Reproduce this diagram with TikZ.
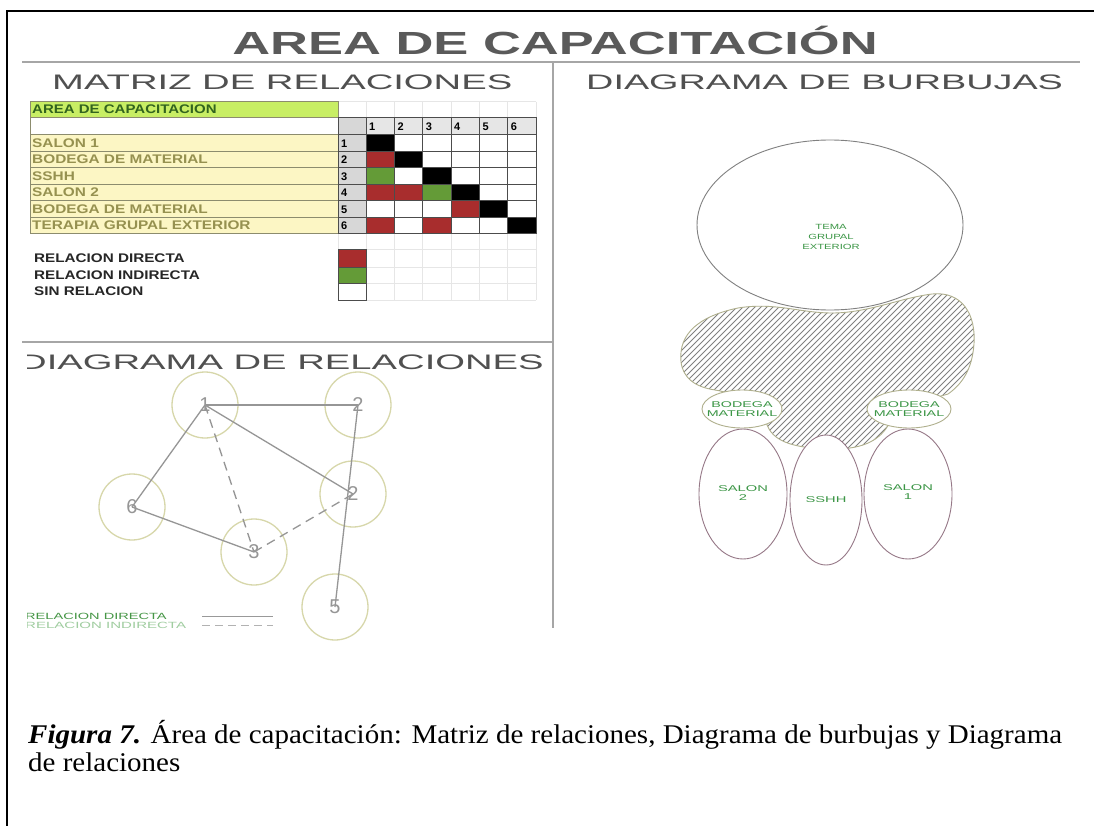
\documentclass[tikz,border=0pt]{standalone}
\usepackage{fontspec}
\setmainfont{Liberation Serif}
\newfontfamily\arial{Liberation Sans}
\usepackage{graphicx}
\definecolor{mred}{RGB}{168,45,45}
\definecolor{mgreen}{RGB}{100,155,55}
\definecolor{limec}{RGB}{200,238,100}
\definecolor{lyellow}{RGB}{252,246,196}
\definecolor{olivetxt}{RGB}{150,145,80}
\definecolor{cellgray}{RGB}{215,215,215}
\definecolor{hdrgray}{RGB}{230,230,230}
\definecolor{gridfaint}{RGB}{230,230,230}
\definecolor{circol}{RGB}{215,215,170}
\definecolor{linegray}{RGB}{150,150,150}
\definecolor{bubgreen}{RGB}{60,150,70}
\definecolor{salonc}{RGB}{150,120,135}
\definecolor{bodc}{RGB}{175,175,140}
\definecolor{titgray}{RGB}{90,90,90}
\definecolor{subgray}{RGB}{80,80,80}
\definecolor{lblborder}{RGB}{140,140,110}
\definecolor{darkgreentxt}{RGB}{50,100,30}
\newcommand\sx[2]{\scalebox{#1}[1]{#2}}
\def\blobpath{(681,362) .. controls (678,333) and (700,316) .. (738,308) .. controls (775,302) and (800,313) .. (832,313) .. controls (868,313) and (900,298) .. (932,294) .. controls (962,291) and (976,314) .. (974,344) .. controls (972,370) and (962,384) .. (948,394) .. controls (920,402) and (905,407) .. (890,422) .. controls (880,442) and (860,450) .. (828,449) .. controls (795,448) and (775,442) .. (768,427) .. controls (760,407) and (740,394) .. (715,390) .. controls (695,387) and (683,378) .. (681,362) -- cycle}
\begin{document}
\begin{tikzpicture}[x=1pt,y=-1pt,
  tbl/.style={anchor=base west, inner sep=0pt, font=\arial\bfseries\fontsize{12.5}{12.5}\selectfont},
  num/.style={anchor=base west, inner sep=0pt, font=\arial\bfseries\fontsize{11}{11}\selectfont},
  relc/.style={circle, draw=circol, line width=1.3pt, minimum size=66pt, inner sep=0pt, text=linegray, font=\arial\fontsize{20}{20}\selectfont},
  rel/.style={draw=linegray, line width=1.3pt},
  reldash/.style={rel, dash pattern=on 9pt off 6pt},
  bub/.style={inner sep=0pt, align=center, text=bubgreen, font=\arial\fontsize{8.4}{9.5}\selectfont},
  sub/.style={anchor=base west, inner sep=0pt, text=subgray, font=\arial\fontsize{21}{21}\selectfont},
  cellb/.style={draw=black!70, line width=1pt},
  hatchln/.style={draw=black!50, line width=0.8pt},
  captxt/.style={anchor=base west, inner sep=0pt, font=\fontsize{27}{28}\selectfont}]
\useasboundingbox (0,0) rectangle (1094,826);
\fill[white] (0,0) rectangle (1094,826);
% outer frame
\draw[line width=2.5pt] (7,826) -- (7,11) -- (1094,11);
% title and rules
\node[anchor=base, inner sep=0pt, text=titgray, font=\arial\bfseries\fontsize{32}{32}\selectfont] (title) at (555,55) {\sx{1.64}{AREA DE CAPACITACIÓN}};
\draw[black!35, line width=1.5pt] (22,62) -- (1080,62);
\draw[black!35, line width=1.5pt] (553,62) -- (553,628);
\draw[black!35, line width=1.5pt] (22,342) -- (553,342);
\node[sub] (stm) at (52,90) {\sx{1.82}{MATRIZ DE RELACIONES}};
\node[sub] (stb) at (586,90) {\sx{1.80}{DIAGRAMA DE BURBUJAS}};
\begin{scope}
\clip (27,340) rectangle (553,380);
\node[sub] (str) at (19,369) {\sx{1.82}{DIAGRAMA DE RELACIONES}};
\end{scope}
% ---------- matrix ----------
\foreach \xx in {338,366,394.33,422.67,451,479.33,507.67,536}
  \draw[gridfaint, line width=1pt] (\xx,102) -- (\xx,300);
\foreach \yy in {102,118,234,250,267,283,300}
  \draw[gridfaint, line width=1pt] (338,\yy) -- (536,\yy);
\draw[lblborder, line width=1pt, fill=limec] (30,102) rectangle (338,118);
\node[tbl, text=darkgreentxt] (areat) at (32,114) {\sx{1.2}{AREA DE CAPACITACION}};
\draw[lblborder, line width=1pt, fill=white] (30,118) rectangle (338,135);
\draw[cellb, fill=cellgray] (338,118) rectangle (366,135);
\foreach \c in {1,...,6}{
  \pgfmathsetmacro\xa{366+(\c-1)*28.333}
  \draw[cellb, fill=hdrgray] (\xa,118) rectangle ++(28.333,17);
  \node[num] (h\c) at (\xa+3,131) {\c};
}
\foreach \r/\lab in {1/SALON 1,2/BODEGA DE MATERIAL,3/SSHH,4/SALON 2,5/BODEGA DE MATERIAL,6/TERAPIA GRUPAL EXTERIOR}{
  \pgfmathsetmacro\ya{135+(\r-1)*16.5}
  \draw[lblborder, line width=1pt, fill=lyellow] (30,\ya) rectangle (338,\ya+16.5);
  \node[tbl, text=olivetxt] (lab\r) at (32,\ya+12.5) {\sx{1.23}{\lab}};
  \draw[cellb, fill=cellgray] (338,\ya) rectangle (366,\ya+16.5);
  \node[num] (rn\r) at (341,\ya+12.5) {\r};
  \foreach \c in {1,...,6}{
    \pgfmathsetmacro\xa{366+(\c-1)*28.333}
    \fill[white] (\xa,\ya) rectangle ++(28.333,16.5);
  }
}
\foreach \r/\c/\col in {1/1/black,2/1/mred,2/2/black,3/1/mgreen,3/3/black,4/1/mred,4/2/mred,4/3/mgreen,4/4/black,5/4/mred,5/5/black,6/1/mred,6/3/mred,6/6/black}{
  \pgfmathsetmacro\xa{366+(\c-1)*28.333}
  \pgfmathsetmacro\ya{135+(\r-1)*16.5}
  \fill[\col] (\xa,\ya) rectangle ++(28.333,16.5);
}
\foreach \r in {0,...,6}
  \draw[cellb] (338,135+\r*16.5) -- (536,135+\r*16.5);
\foreach \c in {0,...,6}
  \draw[cellb] (366+\c*28.333,118) -- (366+\c*28.333,234);
\draw[cellb] (338,118) -- (338,234);
% legend of matrix
\draw[cellb, fill=mred] (338,250) rectangle (366,267);
\draw[cellb, fill=mgreen] (338,267) rectangle (366,283);
\draw[cellb, fill=white] (338,283) rectangle (366,300);
\node[tbl, text=black!85] (lg1) at (34,262.5) {\sx{1.22}{RELACION DIRECTA}};
\node[tbl, text=black!85] (lg2) at (34,279) {\sx{1.22}{RELACION INDIRECTA}};
\node[tbl, text=black!85] (lg3) at (34,295.5) {\sx{1.22}{SIN RELACION}};
% ---------- relation diagram ----------
\node[relc] (n1) at (205,405) {1};
\node[relc] (n2) at (358,405) {2};
\node[relc] (n4) at (353,494) {2};
\node[relc] (n6) at (132,507) {6};
\node[relc] (n3) at (254,552) {3};
\node[relc] (n5) at (335,607) {5};
\draw[rel] (n1.center) -- (n2.center);
\draw[rel] (n1.center) -- (n6.center);
\draw[rel] (n1.center) -- (n4.center);
\draw[rel] (n6.center) -- (n3.center);
\draw[rel] (n2.center) -- (n5.center);
\draw[reldash] (n1.center) -- (n3.center);
\draw[reldash] (n3.center) -- (n4.center);
\begin{scope}
\clip (27,600) rectangle (553,632);
\node[anchor=base west, inner sep=0pt, text={rgb,255:red,70;green,150;blue,70}, font=\arial\fontsize{9}{9}\selectfont] (rl1) at (25,619.5) {\sx{1.62}{RELACION DIRECTA}};
\node[anchor=base west, inner sep=0pt, text={rgb,255:red,160;green,205;blue,160}, font=\arial\fontsize{9}{9}\selectfont] (rl2) at (25,628.5) {\sx{1.67}{RELACION INDIRECTA}};
\end{scope}
\coordinate (la1) at (202,616);
\coordinate (la2) at (273,616);
\coordinate (lb1) at (202,625);
\coordinate (lb2) at (273,625);
\draw[black!40, line width=1pt] (la1) -- (la2);
\draw[black!30, line width=1pt, dash pattern=on 8pt off 5pt] (lb1) -- (lb2);
% ---------- bubble diagram ----------
\begin{scope}
\clip \blobpath;
\foreach \k in {500,506,...,990}
  \draw[hatchln] (\k,460) -- ++(180,-180);
\end{scope}
\draw[bodc, line width=0.9pt] \blobpath;
\draw[black!50, line width=0.9pt, fill=white] (830,225) ellipse [x radius=133pt, y radius=85pt];
\draw[bodc, line width=0.9pt, fill=white] (742,409) ellipse [x radius=40pt, y radius=19pt];
\draw[bodc, line width=0.9pt, fill=white] (909,409) ellipse [x radius=42pt, y radius=19pt];
\draw[salonc, line width=0.9pt, fill=white] (743,494) ellipse [x radius=44pt, y radius=65pt];
\draw[salonc, line width=0.9pt, fill=white] (826,500) ellipse [x radius=36pt, y radius=65pt];
\draw[salonc, line width=0.9pt, fill=white] (908,494) ellipse [x radius=44pt, y radius=65pt];
\node[bub, font=\arial\fontsize{7.5}{10}\selectfont] (tema) at (831,237) {\sx{1.5}{TEMA}\\\sx{1.5}{GRUPAL}\\\sx{1.5}{EXTERIOR}};
\node[bub] (bod1) at (742,409) {\sx{1.7}{BODEGA}\\\sx{1.7}{MATERIAL}};
\node[bub] (bod2) at (909,409) {\sx{1.7}{BODEGA}\\\sx{1.7}{MATERIAL}};
\node[bub] (sal2) at (743,493) {\sx{1.75}{SALON}\\\sx{1.75}{2}};
\node[bub] (sshh) at (826,500) {\sx{1.75}{SSHH}};
\node[bub] (sal1) at (908,492) {\sx{1.75}{SALON}\\\sx{1.75}{1}};
% ---------- caption ----------
\node[captxt] (cap1) at (28,743) {\sx{1.074}{\textbf{\textit{Figura 7.}} Área de capacitación: Matriz de relaciones, Diagrama de burbujas y Diagrama}};
\node[captxt] (cap2) at (28,771) {\sx{1.074}{de relaciones}};
\end{tikzpicture}
\end{document}
